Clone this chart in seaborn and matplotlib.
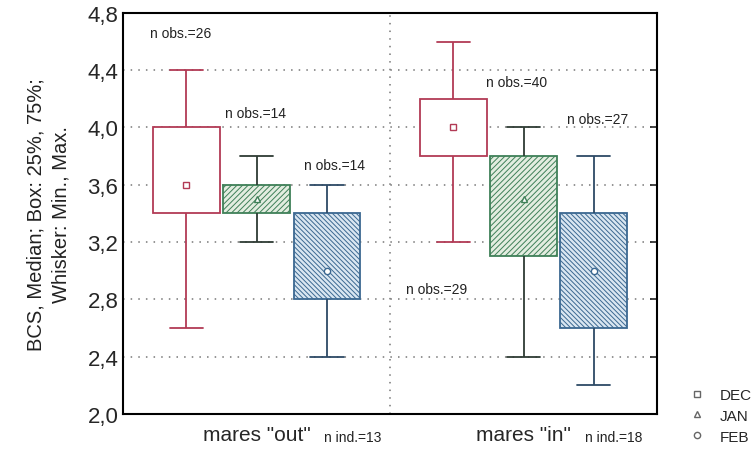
import matplotlib
matplotlib.use("Agg")
import matplotlib.pyplot as plt
from matplotlib.lines import Line2D
import seaborn as sns
import pandas as pd

# Datos (min, 25%, mediana, 75%, max)
groups = ['mares "out"', 'mares "in"']
months = ["DEC", "JAN", "FEB"]

dec_out = [2.6, 3.4, 3.6, 4.0, 4.4]
jan_out = [3.2, 3.4, 3.5, 3.6, 3.8]
feb_out = [2.4, 2.8, 3.0, 3.4, 3.6]
dec_in = [3.2, 3.8, 4.0, 4.2, 4.6]
jan_in = [2.4, 3.1, 3.5, 3.8, 4.0]
feb_in = [2.2, 2.6, 3.0, 3.4, 3.8]

n_obs_labels = ["n obs.=26", "n obs.=14", "n obs.=14", "n obs.=40", "n obs.=27", "n obs.=29"]
n_ind_labels = ["n ind.=13", "n ind.=18"]
y_ticks = [2.0, 2.4, 2.8, 3.2, 3.6, 4.0, 4.4, 4.8]

# Tabla larga para seaborn
summaries = {
    (groups[0], "DEC"): dec_out, (groups[0], "JAN"): jan_out, (groups[0], "FEB"): feb_out,
    (groups[1], "DEC"): dec_in, (groups[1], "JAN"): jan_in, (groups[1], "FEB"): feb_in,
}
rows = []
for (g, m), vals in summaries.items():
    for v in vals:
        rows.append({"grupo": g, "mes": m, "BCS": v})
df = pd.DataFrame(rows)

# Estilo
sns.set_style("ticks")
plt.rcParams["font.family"] = ["Liberation Sans", "DejaVu Sans"]
plt.rcParams["hatch.linewidth"] = 0.7

edge_colors = {"DEC": "#b23a55", "JAN": "#3f8058", "FEB": "#3b6891"}
fill_colors = {"DEC": "#ffffff", "JAN": "#e3ede0", "FEB": "#d9e6f1"}
whisker_colors = {"DEC": "#b23a55", "JAN": "#2e3b34", "FEB": "#2d4a66"}
hatches = {"DEC": "", "JAN": "//////", "FEB": "\\\\\\\\\\\\\\"}
markers = {"DEC": "s", "JAN": "^", "FEB": "o"}

fig = plt.figure(figsize=(7.56, 4.64), dpi=100)
ax = fig.add_axes([0.163, 0.106, 0.706, 0.864])

sns.boxplot(data=df, x="grupo", y="BCS", hue="mes", order=groups, hue_order=months,
            palette=fill_colors, whis=(0, 100), width=0.79, gap=0.05,
            linewidth=1.3, ax=ax, legend=False)

for cont, m in zip(ax.containers, months):
    for box in cont.boxes:
        box.set_edgecolor(edge_colors[m])
        box.set_facecolor(fill_colors[m])
        box.set_hatch(hatches[m])
        box.set_linewidth(1.3)
        box.set_zorder(2)
    for ln in list(cont.whiskers) + list(cont.caps):
        ln.set_color(whisker_colors[m])
        ln.set_linewidth(1.3)
    for ln in cont.medians:
        ln.set_visible(False)
    # Mediana como marcador en el centro de cada caja
    for box, ln in zip(cont.boxes, cont.medians):
        xs = box.get_path().vertices[:, 0]
        xc = (xs.min() + xs.max()) / 2
        yv = ln.get_ydata()[0]
        ax.plot([xc], [yv], marker=markers[m], ms=4.5, mfc="white",
                mec=edge_colors[m], mew=1.0, zorder=3)

# Ejes
ax.set_xlim(-0.5, 1.5)
ax.set_ylim(2.0, 4.8)
ax.set_yticks(y_ticks)
ax.set_yticklabels([f"{t:.1f}".replace(".", ",") for t in y_ticks], fontsize=16)
ax.tick_params(axis="y", left=False, right=True, direction="in", length=5, width=1.2)
ax.tick_params(axis="x", length=0, labelsize=15, pad=8)
ax.set_xlabel("")
ax.set_ylabel("BCS, Median; Box: 25%, 75%;\nWhisker: Min., Max.", fontsize=14.5,
              labelpad=12, color="#222222", linespacing=1.45)
for s in ax.spines.values():
    s.set_linewidth(1.5)
    s.set_color("black")
    s.set_visible(True)

ax.set_axisbelow(True)
ax.yaxis.grid(True, linestyle=(0, (1, 4)), color="#777777", linewidth=1.1)
ax.axvline(0.5, linestyle=(0, (1, 4)), color="#777777", linewidth=1.1, zorder=0)

# Anotaciones n obs.
obs_pos = [(-0.40, 4.66), (-0.117, 4.10), (0.176, 3.74), (0.859, 4.32), (1.162, 4.06), (0.56, 2.87)]
for lbl, (x, y) in zip(n_obs_labels, obs_pos):
    ax.text(x, y, lbl, fontsize=10, ha="left", va="center", color="#222222")

for lbl, x in zip(n_ind_labels, [0.252, 1.23]):
    ax.text(x, -0.058, lbl, fontsize=10, ha="left", va="center", color="#222222",
            transform=ax.get_xaxis_transform())

# Leyenda
handles = [Line2D([], [], ls="", marker=markers[m], ms=4.5, mfc="white", mec="#666666", mew=1.0)
           for m in months]
ax.legend(handles, months, loc="center left", bbox_to_anchor=(1.035, -0.005), frameon=False,
          fontsize=11, handletextpad=1.0, labelspacing=0.45, handlelength=1.0)

plt.savefig("out.png", dpi=100)
